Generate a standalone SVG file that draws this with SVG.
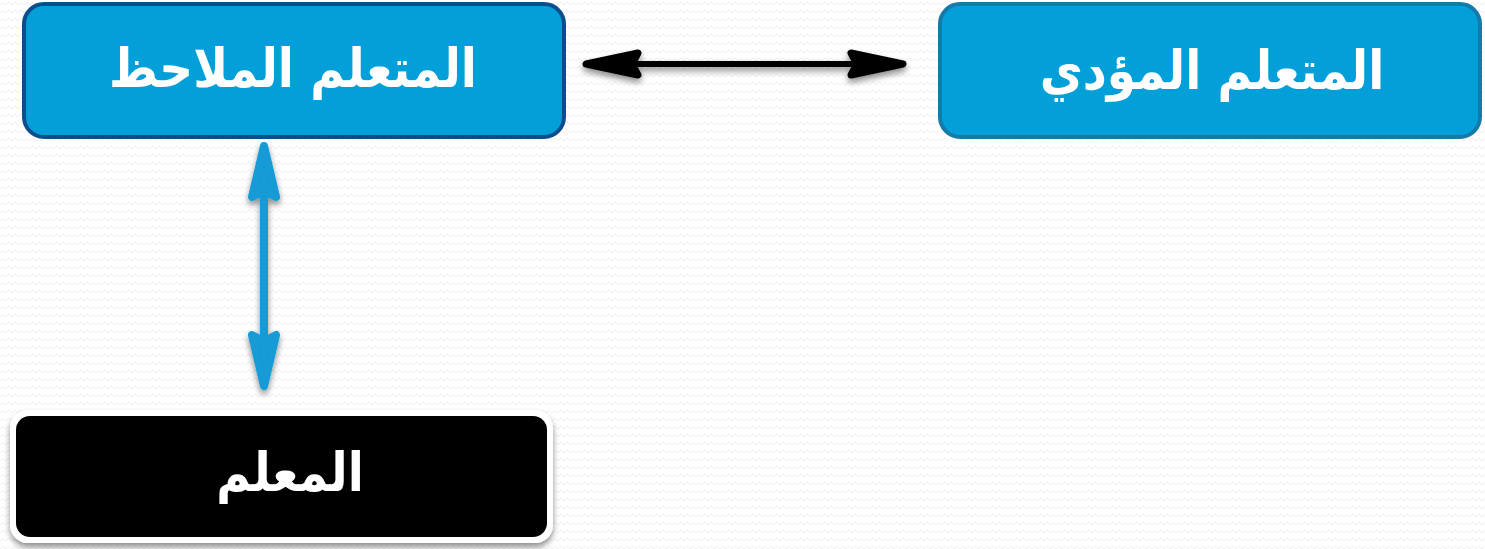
<svg xmlns="http://www.w3.org/2000/svg" width="1485" height="549" viewBox="0 0 1485 549">
<defs>
<pattern id="bgp" width="12" height="8" patternUnits="userSpaceOnUse">
<path d="M0 5 L3 2 L6 5 L9 2 L12 5" fill="none" stroke="#efefef" stroke-width="1"/>
</pattern>
<filter id="sh" x="-20%" y="-20%" width="140%" height="160%">
<feGaussianBlur in="SourceAlpha" stdDeviation="3"/>
<feOffset dx="0" dy="4" result="b"/>
<feComponentTransfer><feFuncA type="linear" slope="0.45"/></feComponentTransfer>
<feMerge><feMergeNode/><feMergeNode in="SourceGraphic"/></feMerge>
</filter>
<marker id="ahB" viewBox="0 0 60 30" refX="56" refY="15" markerWidth="60" markerHeight="30" markerUnits="userSpaceOnUse" orient="auto-start-reverse">
<path d="M4 4 L56 15 L4 26 L10 15 Z" fill="#000" stroke="#000" stroke-width="7" stroke-linejoin="round"/>
</marker>
<marker id="ahC" viewBox="0 0 60 32" refX="56" refY="16" markerWidth="60" markerHeight="32" markerUnits="userSpaceOnUse" orient="auto-start-reverse">
<path d="M5 4 L56 16 L5 28 L11 16 Z" fill="#129bd6" stroke="#129bd6" stroke-width="8" stroke-linejoin="round"/>
</marker>
</defs>
<style>
.lbl{font-family:"DejaVu Sans","Noto Sans",sans-serif;font-weight:bold;font-size:46px;fill:#fff;text-anchor:middle}
.blue{fill:#039fd9;stroke-width:4}
</style>
<rect x="0" y="0" width="1485" height="549" fill="#fff"/>
<rect x="0" y="0" width="1485" height="549" fill="url(#bgp)"/>
<g id="connectors" filter="url(#sh)">
<line x1="586" y1="64" x2="903" y2="64" stroke="#000" stroke-width="6" marker-start="url(#ahB)" marker-end="url(#ahB)"/>
<line x1="264" y1="146" x2="264" y2="386" stroke="#129bd6" stroke-width="8" marker-start="url(#ahC)" marker-end="url(#ahC)"/>
</g>
<g id="node-observer">
<rect x="24" y="4" width="540" height="133" rx="20" class="blue" stroke="#0b4e8e"/>
<text class="lbl" transform="translate(293,87) scale(1.02,1.17)">المتعلم الملاحظ</text>
</g>
<g id="node-performer">
<rect x="940" y="4" width="540" height="133" rx="20" class="blue" stroke="#157aa9"/>
<text class="lbl" transform="translate(1212,89) scale(1.02,1.17)">المتعلم المؤدي</text>
</g>
<g id="node-teacher" filter="url(#sh)">
<rect x="10" y="410" width="543" height="133" rx="18" fill="#fff"/>
<rect x="16" y="416" width="531" height="121" rx="14" fill="#000"/>
<text class="lbl" transform="translate(290,491) scale(1.02,1.17)">المعلم</text>
</g>
</svg>
